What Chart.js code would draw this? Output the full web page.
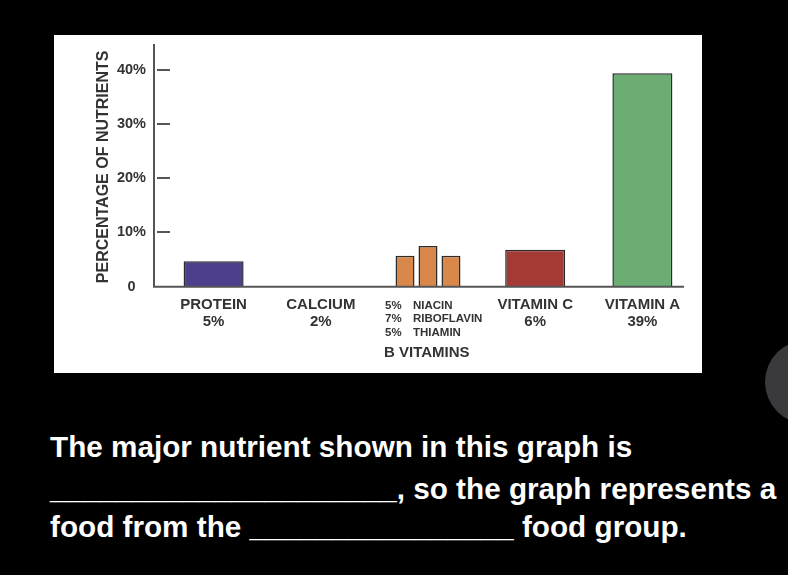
<!DOCTYPE html>
<html>
<head>
<meta charset="utf-8">
<script src="https://cdn.jsdelivr.net/npm/chart.js@4.4.1/dist/chart.umd.min.js"></script>
<style>
  html, body { margin: 0; padding: 0; background: #000; width: 788px; height: 575px; overflow: hidden; }
  #panel { position: absolute; left: 54px; top: 35px; width: 648px; height: 338px; background: #fff; }
  #chart { position: absolute; left: 0; top: 0; }
  #dot { position: absolute; left: 765px; top: 340px; width: 84px; height: 84px; border-radius: 50%; background: #3a3a3c; }
  .q { position: absolute; left: 50px; color: #fff; font-family: "Liberation Sans", Arial, sans-serif; font-weight: bold; font-size: 29.7px; white-space: pre; line-height: 1; }
</style>
</head>
<body>
<div id="panel"><canvas id="chart" width="648" height="338"></canvas></div>
<div id="dot"></div>
<div class="q" style="top:432px">The major nutrient shown in this graph is</div>
<div class="q" style="top:474px">_____________________, so the graph represents a</div>
<div class="q" style="top:512px">food from the ________________ food group.</div>
<script>
const categories = ['PROTEIN', 'CALCIUM', 'B VITAMINS', 'VITAMIN C', 'VITAMIN A'];
const percentLabels = ['5%', '2%', '', '6%', '39%'];
const mainValues = [4.7, null, null, 6.8, 39.3];
const mainColors = ['#4e3f8c', '#4e3f8c', '#d8884b', '#a43a36', '#6bad73'];
const bVitaminNames = ['NIACIN', 'RIBOFLAVIN', 'THIAMIN'];
const bVitaminLabels = ['5%', '7%', '5%'];
const bVitaminValues = [5.7, 7.5, 5.7];
const bVitaminColor = '#d8884b';
const bGroupIndex = 2;
const yTicks = [0, 10, 20, 30, 40];
const yTitle = 'PERCENTAGE OF NUTRIENTS';

const TEXT = '#333333';
const FONT = '"Liberation Sans", Arial, sans-serif';

const datasets = [{
  label: 'main',
  data: mainValues,
  backgroundColor: mainColors,
  borderColor: '#2b2b2b',
  borderWidth: 1.5,
  grouped: false,
  barPercentage: 0.56,
  categoryPercentage: 1
}];
bVitaminValues.forEach((v, k) => {
  datasets.push({
    label: bVitaminNames[k],
    data: categories.map((c, i) => i === bGroupIndex ? v : null),
    backgroundColor: bVitaminColor,
    borderColor: '#2b2b2b',
    borderWidth: 1.5,
    grouped: true,
    categoryPercentage: 0.643,
    barPercentage: 0.826
  });
});

const decor = {
  id: 'decor',
  afterDatasetsDraw(chart) {
    const ctx = chart.ctx;
    const a = chart.chartArea;
    const xs = chart.scales.x, ys = chart.scales.y;
    const axisX = a.left - 6;
    ctx.save();
    ctx.strokeStyle = '#555';
    ctx.lineWidth = 2;
    ctx.beginPath();
    ctx.moveTo(axisX, a.top);
    ctx.lineTo(axisX, a.bottom);
    ctx.lineTo(a.right - 12, a.bottom);
    ctx.stroke();
    yTicks.forEach(v => {
      if (v === 0) return;
      const y = Math.round(ys.getPixelForValue(v));
      ctx.beginPath();
      ctx.moveTo(axisX + 3, y);
      ctx.lineTo(axisX + 16, y);
      ctx.stroke();
    });
    // y title
    ctx.fillStyle = TEXT;
    ctx.font = 'bold 16px ' + FONT;
    ctx.textAlign = 'center';
    ctx.textBaseline = 'middle';
    ctx.translate(50, (a.top + a.bottom) / 2 + 1.5);
    ctx.rotate(-Math.PI / 2);
    ctx.fillText(yTitle, 0, 0);
    ctx.restore();

    // x labels
    ctx.save();
    ctx.fillStyle = TEXT;
    ctx.textBaseline = 'middle';
    categories.forEach((c, i) => {
      const x = xs.getPixelForValue(i);
      if (i === bGroupIndex) {
        const left = x - 44;
        ctx.textAlign = 'left';
        ctx.font = 'bold 11.5px ' + FONT;
        bVitaminNames.forEach((n, k) => {
          const y = a.bottom + 19 + k * 13.5;
          ctx.fillText(bVitaminLabels[k], left + 1, y);
          ctx.fillText(n, left + 29, y);
        });
        ctx.font = 'bold 15px ' + FONT;
        ctx.fillText(c, left, a.bottom + 66);
      } else {
        ctx.textAlign = 'center';
        ctx.font = 'bold 15px ' + FONT;
        ctx.fillText(c, x, a.bottom + 18);
        ctx.fillText(percentLabels[i], x, a.bottom + 35);
      }
    });
    ctx.restore();
  }
};

new Chart(document.getElementById('chart'), {
  type: 'bar',
  data: { labels: categories, datasets },
  options: {
    responsive: false,
    animation: false,
    devicePixelRatio: 1,
    layout: { autoPadding: false, padding: { left: 0, right: 6, top: 9, bottom: 0 } },
    plugins: { legend: { display: false }, tooltip: { enabled: false } },
    scales: {
      x: {
        type: 'category',
        offset: true,
        grid: { display: false },
        border: { display: false },
        ticks: { display: false },
        afterFit: s => { s.height = 86.3; s.paddingLeft = 0; s.paddingRight = 0; }
      },
      y: {
        min: 0,
        max: 44.7,
        afterBuildTicks: s => { s.ticks = yTicks.map(v => ({ value: v })); },
        grid: { display: false },
        border: { display: false },
        ticks: {
          padding: 6,
          crossAlign: 'center',
          color: TEXT,
          font: { family: FONT, weight: 'bold', size: 14.5 },
          callback: v => v === 0 ? '0' : v + '%'
        },
        afterFit: s => { s.width = 106; s.paddingTop = 0; s.paddingBottom = 0; }
      }
    }
  },
  plugins: [decor]
});
</script>
</body>
</html>
